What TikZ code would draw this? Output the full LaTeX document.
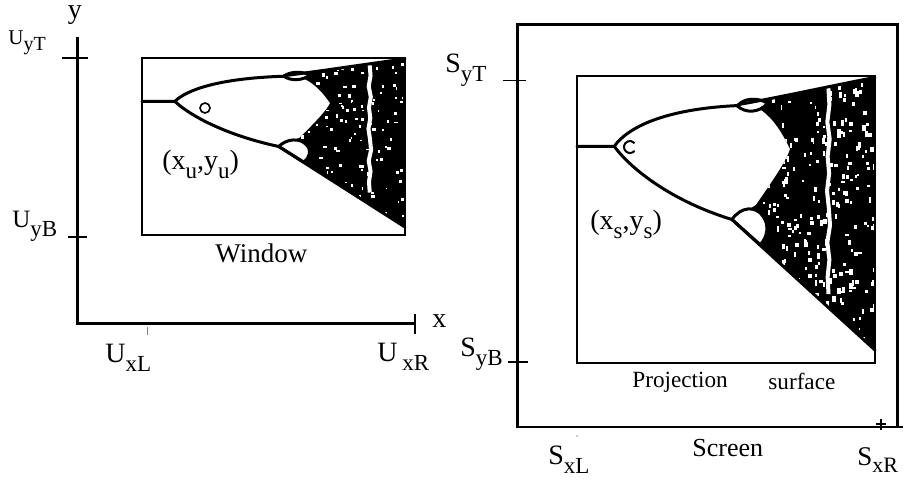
\documentclass[tikz,border=0pt]{standalone}
\usepackage{fontspec}
\setmainfont{Liberation Serif}
\usetikzlibrary{positioning}
\newcommand{\lo}[1]{\raisebox{-4.5pt}{\fontsize{11.5}{12}\selectfont #1}}
\newcommand{\chaospath}{(0.54,0.9) .. controls (0.7,0.93) and (0.85,0.965) .. (1,0.995) -- (1,0.045) -- (0.52,0.5) -- (0.6,0.55) .. controls (0.66,0.64) and (0.7,0.7) .. (0.715,0.745) .. controls (0.69,0.8) and (0.66,0.85) .. (0.62,0.88) -- cycle}
% bifurcation picture in the unit square: #1 specks, #2 seed, #3 position of the window
\newcommand{\bifplot}[3]{%
  \fill \chaospath;
  \begin{scope}
    \clip \chaospath;
    \pgfmathsetseed{#2}
    \foreach \k in {1,...,#1}{
      \pgfmathsetmacro\su{0.55+0.45*rnd}
      \pgfmathsetmacro\sv{0.05+0.93*rnd}
      \pgfmathsetmacro\sw{0.005+0.009*rnd}
      \pgfmathsetmacro\sh{0.007+0.014*rnd}
      \fill[white] (\su,\sv) rectangle ++(\sw,\sh);
    }
    \draw[white, line width=2pt, line join=round] ({#3},0.97)
      \foreach \t/\d in {0.9/0.004,0.84/-0.003,0.78/0.005,0.72/-0.002,0.66/0.003,0.6/-0.004,0.54/0.002,0.48/0.006,0.42/-0.003,0.36/0.004,0.3/-0.002,0.24/0.001}{ -- ({#3+\d},\t) };
  \end{scope}
  \draw[branch, fill=white] (0.54,0.897) .. controls (0.56,0.925) and (0.61,0.925) .. (0.64,0.905) .. controls (0.61,0.87) and (0.565,0.87) .. cycle;
  \draw[branch, fill=white] (0.52,0.5) .. controls (0.55,0.545) and (0.6,0.55) .. (0.625,0.51) .. controls (0.645,0.48) and (0.64,0.44) .. (0.615,0.412) -- cycle;
  \draw[branch] (0,0.755) -- (0.125,0.755) .. controls (0.17,0.82) and (0.29,0.885) .. (0.54,0.897);
  \draw[branch] (0.125,0.755) .. controls (0.17,0.69) and (0.3,0.57) .. (0.52,0.5) -- (1,0.045);
  \draw[branch] (0.54,0.9) .. controls (0.7,0.93) and (0.85,0.965) .. (1,0.995);
}
\begin{document}
\begin{tikzpicture}[x=0.5pt, y=-0.5pt,
    lbl/.style={font=\fontsize{14}{16}\selectfont, inner sep=0pt, anchor=base west},
    small/.style={font=\fontsize{11.6}{14}\selectfont, inner sep=0pt, anchor=base west},
    axisline/.style={line width=1.5pt},
    frame/.style={line width=0.9pt},
    branch/.style={line width=1.5pt, line join=round, line cap=round},
    tickline/.style={line width=0.7pt}
  ]
  \useasboundingbox (0,0) rectangle (911,480);

  % world coordinates
  \coordinate (ytop) at (77,37);
  \coordinate (orig) at (77,324);
  \coordinate (xend) at (415,324);
  \draw[axisline] (ytop) -- (orig) -- (xend);
  \draw[tickline] (62,58) -- (88,58);
  \draw[tickline] (68,237) -- (87,237);
  \draw[tickline] (415,314) -- (415,334);
  \draw[line width=0.4pt, black!50] (147,327) -- (147,335);
  \node[inner sep=0pt, anchor=base, font=\fontsize{14}{16}\selectfont] (ylab) at (75,19) {y};
  \node[lbl] (xlab) at (432,328) {x};
  \node[lbl, font=\fontsize{10.5}{12}\selectfont] (uyt) at (8,45) {U\raisebox{-3pt}{\fontsize{10}{11}\selectfont yT}};
  \node[lbl, font=\fontsize{12.5}{14}\selectfont] (uyb) at (12,228) {U\lo{yB}};
  \node[lbl] (uxl) at (105,363) {U\lo{xL}};
  \node[lbl] (uxr) at (377,362) {U\,\lo{xR}};

  \begin{scope}[shift={(142,235)}, xscale=263, yscale=-177]
    \bifplot{150}{3}{0.865}
  \end{scope}
  \draw[frame] (142,58) rectangle (405,235);
  \node[draw, circle, minimum size=5pt, inner sep=0pt, line width=0.8pt] (umark) at (205,108) {};
  \node[lbl] (upt) at (162,170) {(x\lo{u},y\lo{u})};
  \node[lbl, font=\fontsize{13.5}{16}\selectfont] (win) at (215,263) {Window};

  % screen coordinates
  \coordinate (sbl) at (517,428);
  \coordinate (stl) at (517,25);
  \coordinate (str) at (897,25);
  \coordinate (sbr) at (897,427);
  \draw[axisline] (sbl) -- (stl) -- (str) -- (sbr);
  \draw[line width=1.1pt] (517,427) -- (903,427);
  \draw[line width=0.5pt] (503,81) -- (526,81);
  \draw[tickline] (508,362) -- (528,362);
  \draw[line width=1pt] (881,419) -- (881,430) (876,424) -- (886,424);
  \fill[black!40] (577,436) circle[radius=0.8];

  \begin{scope}[shift={(577,363)}, xscale=298, yscale=-287]
    \bifplot{330}{11}{0.843}
  \end{scope}
  \draw[frame] (577,76) rectangle (875,363);
  \coordinate (smark) at (630,147);
  \draw[line width=1pt] ([shift={(40:6)}]smark) arc[start angle=40, end angle=320, radius=6];
  \node[lbl] (spt) at (590,230) {(x\lo{s},y\lo{s})};
  \node[small] (proj) at (632,388) {Projection};
  \node[small] (surf) at (768,390) {surface};

  \node[lbl] (syt) at (445,73) {S\lo{yT}};
  \node[lbl] (syb) at (460,357) {S\lo{yB}};
  \node[lbl] (sxl) at (548,465) {S\lo{xL}};
  \node[lbl, font=\fontsize{13}{16}\selectfont] (scr) at (692,457) {Screen};
  \node[lbl, font=\fontsize{13.5}{16}\selectfont] (sxr) at (857,466) {S\raisebox{-3.5pt}{\fontsize{11}{12}\selectfont xR}};
\end{tikzpicture}
\end{document}
